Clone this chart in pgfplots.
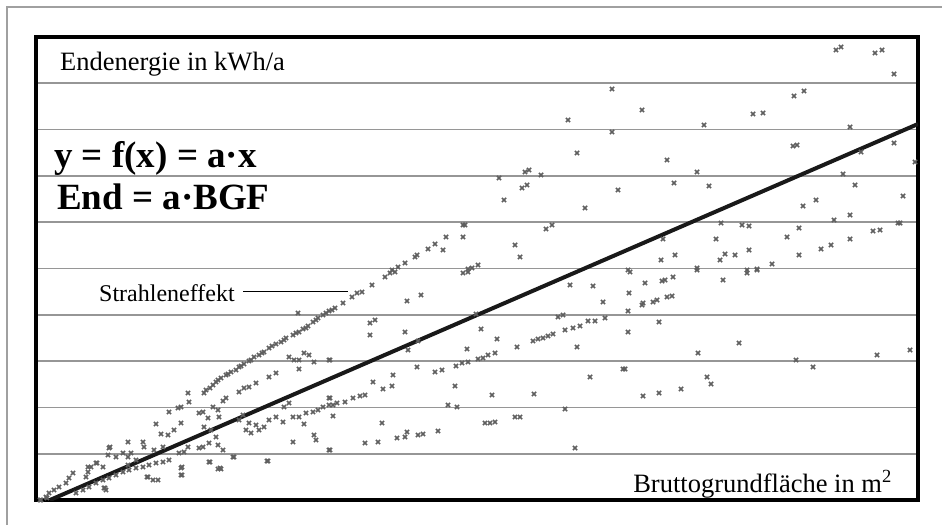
\documentclass[border=0pt]{standalone}
\usepackage{fontspec}
\setmainfont{Liberation Serif}
\usepackage{pgfplots}
\pgfplotsset{compat=1.18}
\definecolor{markgray}{RGB}{95,95,95}
\definecolor{gridgray}{RGB}{150,150,150}
\definecolor{framegray}{RGB}{160,160,160}
\begin{document}
\begin{tikzpicture}[x=1pt,y=1pt]
\useasboundingbox (0,0) rectangle (942,525);
\draw[framegray, line width=1.5pt] (7,0) -- (7,518) -- (942,518);
\begin{axis}[at={(36,25)}, anchor=south west, scale only axis,
  width=882pt, height=463pt,
  xmin=0, xmax=882, ymin=0, ymax=463,
  xtick=\empty,
  ytick={46.3,92.6,138.9,185.2,231.5,277.8,324.1,370.4,416.7},
  yticklabels={}, major tick length=0pt,
  ymajorgrids, grid style={draw=gridgray, line width=1.8pt},
  axis line style={line width=3.2pt, black},
  clip=true]
\addplot[only marks, mark=x, mark size=3pt, markgray, mark options={line width=1.6pt}]
 table[x expr=\thisrow{px}-36, y expr=500-\thisrow{py}] {
px py
298 313
329 311
323 315
318 318
313 322
308 326
303 329
299 332
293 335
286 338
281 342
276 344
269 348
264 352
259 355
254 357
249 361
244 364
239 367
236 370
231 372
226 375
221 378
216 382
213 385
206 390
204 393
210 388
218 380
228 374
241 366
251 360
262 353
272 346
284 340
296 333
306 328
316 320
326 313
188 393
189 402
181 407
178 408
169 412
156 424
181 423
174 430
168 435
161 434
128 442
143 442
144 447
154 450
163 447
109 448
108 455
116 457
123 453
128 457
131 453
96 463
91 467
88 472
86 477
73 473
69 478
66 483
59 487
54 490
49 493
46 497
41 500
104 488
289 357
294 360
299 360
304 353
309 355
299 369
314 362
329 360
269 377
276 373
256 383
249 387
244 388
239 392
226 398
223 401
213 407
203 412
199 413
218 410
219 417
208 418
204 427
211 430
216 437
209 443
203 447
199 448
218 445
223 450
234 457
184 452
188 447
179 453
243 415
239 420
249 423
256 425
246 430
251 433
259 430
264 427
269 420
276 417
283 422
284 407
289 403
293 417
299 417
306 413
313 412
318 410
323 407
329 405
329 398
304 424
293 442
314 435
316 440
329 450
268 461
209 462
218 469
221 469
181 468
181 475
148 477
153 480
158 480
169 460
163 462
156 463
149 465
143 467
136 468
129 470
123 472
116 475
109 478
103 480
96 483
89 487
83 490
76 493
106 490
136 460
128 465
88 467
97 463
103 467
110 447
105 488
147 477
182 467
182 475
210 462
220 468
233 457
267 461
40 500
47 498
385 277
390 273
395 272
372 285
362 292
357 293
352 297
343 303
335 308
332 310
463 273
468 272
407 301
421 295
370 323
375 320
370 335
405 332
408 350
418 341
330 360
476 314
481 329
497 339
467 349
417 367
435 372
442 370
456 366
462 363
468 362
478 359
483 358
488 355
495 353
517 347
533 341
538 339
543 338
548 336
553 334
565 330
573 328
580 326
588 321
595 321
605 318
558 317
563 315
570 285
593 286
603 302
577 347
590 377
623 369
330 398
333 405
337 403
345 402
353 398
360 396
365 395
373 382
383 389
392 386
393 375
333 416
382 423
448 405
455 386
457 407
492 395
534 394
565 409
365 443
378 442
397 438
405 437
407 432
418 435
423 434
438 431
485 423
490 423
495 422
515 417
520 417
575 448
330 450
630 272
645 283
662 281
665 280
673 277
697 270
723 280
747 273
757 270
629 293
628 311
642 305
643 303
653 302
657 300
667 297
672 296
628 332
659 322
698 353
739 343
796 360
813 367
877 355
910 350
625 369
643 396
659 393
681 389
707 377
711 384
612 89
568 120
612 132
577 153
499 178
504 200
525 172
529 170
541 175
522 188
527 185
618 190
585 208
463 225
465 225
463 237
446 237
428 249
435 244
443 250
415 257
417 255
405 263
398 267
392 270
515 245
520 257
546 229
552 225
478 265
468 269
472 268
836 50
841 47
875 53
882 50
894 74
642 110
704 125
753 114
763 113
794 96
804 91
850 127
793 146
797 145
894 143
861 152
915 162
667 160
697 172
674 183
709 186
843 174
855 185
903 196
803 206
816 200
721 223
742 225
749 226
834 220
850 215
898 223
900 223
663 239
716 239
787 237
799 228
850 239
873 231
880 230
661 260
675 255
720 260
725 254
735 255
749 250
799 255
821 249
831 245
772 264
757 269
747 270
697 268
628 270
};
\addplot[black!90, line width=4pt, no marks] coordinates {(14,0) (882,376)};
\end{axis}
\node[anchor=base west, inner sep=0pt] at (60,454) {\fontsize{26.5}{30}\selectfont Endenergie in kWh/a};
\node[anchor=base west, inner sep=0pt] at (54,357) {\fontsize{37}{40}\selectfont\bfseries y = f(x) = a·x};
\node[anchor=base west, inner sep=0pt] at (57,315) {\fontsize{37}{40}\selectfont\bfseries End = a·BGF};
\node[anchor=base west, inner sep=0pt] at (99,223) {\fontsize{24}{28}\selectfont Strahleneffekt};
\draw[black, line width=1pt] (243,233) -- (348,233);
\node[anchor=base east, inner sep=0pt] at (892,33) {\fontsize{26.5}{30}\selectfont Bruttogrundfläche in m\textsuperscript{2}};
\end{tikzpicture}
\end{document}
